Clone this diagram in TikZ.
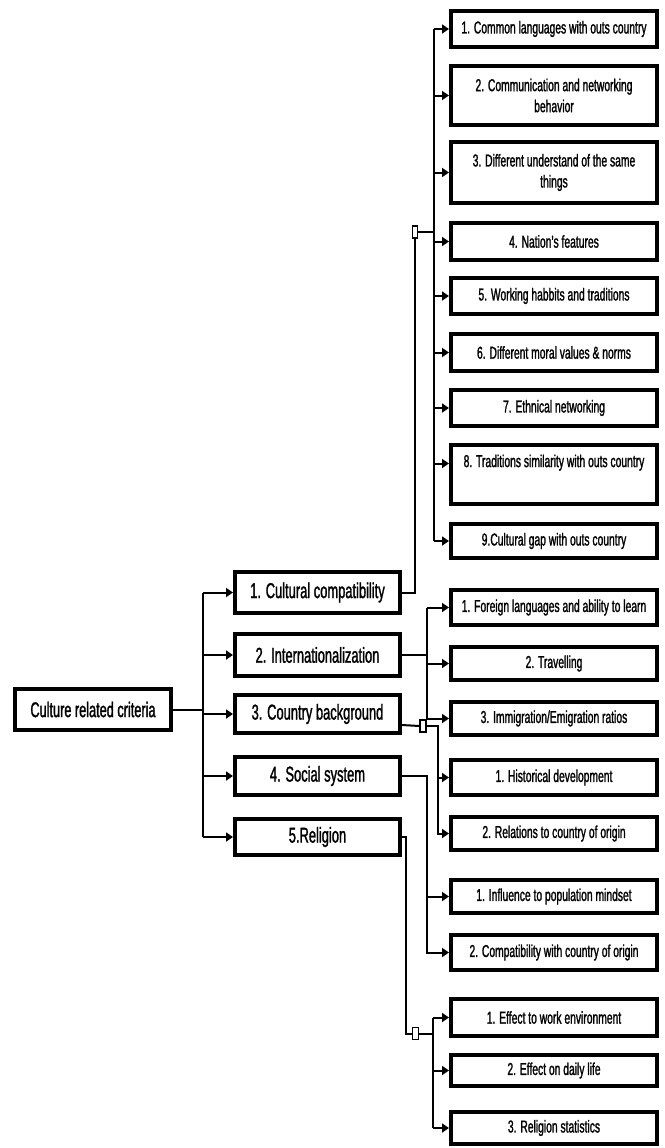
\documentclass[tikz,border=0pt]{standalone}
\usepackage{fontspec}
\setmainfont{Liberation Sans}[FakeStretch=0.6,FakeBold=1.3]
\usetikzlibrary{arrows.meta}
\begin{document}
\begin{tikzpicture}[x=1pt,y=-1pt,
  boxA/.style={draw,line width=4pt,fill=white,inner sep=0pt,align=center,
    minimum width=206pt,font=\fontsize{17.2}{21}\selectfont},
  boxB/.style={draw,line width=4pt,fill=white,inner sep=0pt,align=center,
    minimum width=165pt,font=\fontsize{21.5}{24}\selectfont},
  conn/.style={line width=2pt},
  arr/.style={line width=2pt,-{Triangle[length=7pt,width=9pt]}},
  junc/.style={draw,line width=1.2pt,fill=white,minimum width=6pt,minimum height=12pt,inner sep=0pt}]
\useasboundingbox (0,0) rectangle (664,1148);
\fill[white] (0,0) rectangle (664,1148);

% root
\node[boxB,minimum width=156pt,minimum height=41pt,font=\fontsize{21.2}{24}\selectfont] (root) at (93,709.5) {Culture related criteria};

% level 1
\node[boxB,minimum height=41pt] (L1) at (317.5,592.5) {1. Cultural compatibility};
\node[boxB,minimum height=42pt] (L2) at (317.5,655) {2. Internationalization};
\node[boxB,minimum height=38pt] (L3) at (317.5,714) {3. Country background};
\node[boxB,minimum height=38pt] (L4) at (317.5,776) {4. Social system};
\node[boxB,minimum height=36pt] (L5) at (317.5,837) {5.Religion};

% cultural compatibility children
\node[boxA,minimum height=36pt] (c1) at (554,29) {1. Common languages with outs country};
\node[boxA,minimum height=59pt] (c2) at (554,95.5) {2. Communication and networking\\behavior};
\node[boxA,minimum height=61pt] (c3) at (554,172.5) {3. Different understand of the same\\things};
\node[boxA,minimum height=37pt] (c4) at (554,241.5) {4. Nation's features};
\node[boxA,minimum height=36pt] (c5) at (554,296) {5. Working habbits and traditions};
\node[boxA,minimum height=37pt] (c6) at (554,352.5) {6. Different moral values \& norms};
\node[boxA,minimum height=36pt] (c7) at (554,408) {7. Ethnical networking};
\node[boxA,minimum height=59pt] (c8) at (554,474.5) {8. Traditions similarity with outs country\\\strut};
\node[boxA,minimum height=34pt] (c9) at (554,541) {9.Cultural gap with outs country};

% internationalization children
\node[boxA,minimum height=35pt] (i1) at (554,607.5) {1. Foreign languages and ability to learn};
\node[boxA,minimum height=33pt] (i2) at (554,663.5) {2. Travelling};
\node[boxA,minimum height=33pt] (i3) at (554,718.5) {3. Immigration/Emigration ratios};
% country background children
\node[boxA,minimum height=35pt] (b1) at (554,777.5) {1. Historical development};
\node[boxA,minimum height=33pt] (b2) at (554,833.5) {2. Relations to country of origin};
% social system children
\node[boxA,minimum height=33pt] (s1) at (554,896.5) {1. Influence to population mindset};
\node[boxA,minimum height=35pt] (s2) at (554,952.5) {2. Compatibility with country of origin};
% religion children
\node[boxA,minimum height=37pt] (r1) at (554,1017.5) {1. Effect to work environment};
\node[boxA,minimum height=31pt] (r2) at (554,1070.5) {2. Effect on daily life};
\node[boxA,minimum height=32pt] (r3) at (554,1128) {3. Religion statistics};

% bus coordinates
\coordinate (rb) at (203,0);
\coordinate (cb) at (434,0);
\coordinate (g2) at (427,0);
\coordinate (g3) at (438,0);
\coordinate (g4) at (427,0);
\coordinate (g5) at (433,0);
\coordinate (c8in) at ([yshift=11pt]c8.west);
\coordinate (L3out) at ([yshift=-11pt]L3.east);

% root -> level 1
\draw[conn] (root.east) -- (rb |- root.east);
\draw[conn] (rb |- L1.west) -- (rb |- L5.west);
\foreach \n in {L1,L2,L3,L4,L5} \draw[arr] (rb |- \n.west) -- (\n.west);

% cultural compatibility
\node[junc,minimum width=5pt] (j1) at (415,232) {};
\draw[conn] (L1.east) -| (j1.south);
\draw[conn] (j1.east) -- (cb |- j1.east);
\draw[conn] (cb |- c1.west) -- (cb |- c9.west);
\foreach \n in {c1,c2,c3,c4,c5,c6,c7,c9} \draw[arr] (cb |- \n.west) -- (\n.west);
\draw[arr] (cb |- c8in) -- (c8in);

% internationalization
\draw[conn] (L2.east) -- (g2 |- L2.east);
\draw[conn] (g2 |- i1.west) -- (g2 |- i3.west);
\foreach \n in {i1,i2,i3} \draw[arr] (g2 |- \n.west) -- (\n.west);

% country background
\node[junc] (j3) at (423,726) {};
\draw[conn] (L3out) -- (j3.west);
\draw[arr] (j3.east) -| (g3 |- b2.west) -- (b2.west);
\draw[arr] (g3 |- b1.west) -- (b1.west);

% social system
\draw[arr] (L4.east) -| (g4 |- s2.west) -- (s2.west);
\draw[arr] (g4 |- s1.west) -- (s1.west);

% religion
\node[junc] (j5) at (415.5,1033.5) {};
\draw[conn] (L5.east) -- ++(4,0) |- (j5.west);
\draw[conn] (j5.east) -- (g5 |- j5.east);
\draw[conn] (g5 |- r1.west) -- (g5 |- r3.west);
\foreach \n in {r1,r2,r3} \draw[arr] (g5 |- \n.west) -- (\n.west);
\end{tikzpicture}
\end{document}
